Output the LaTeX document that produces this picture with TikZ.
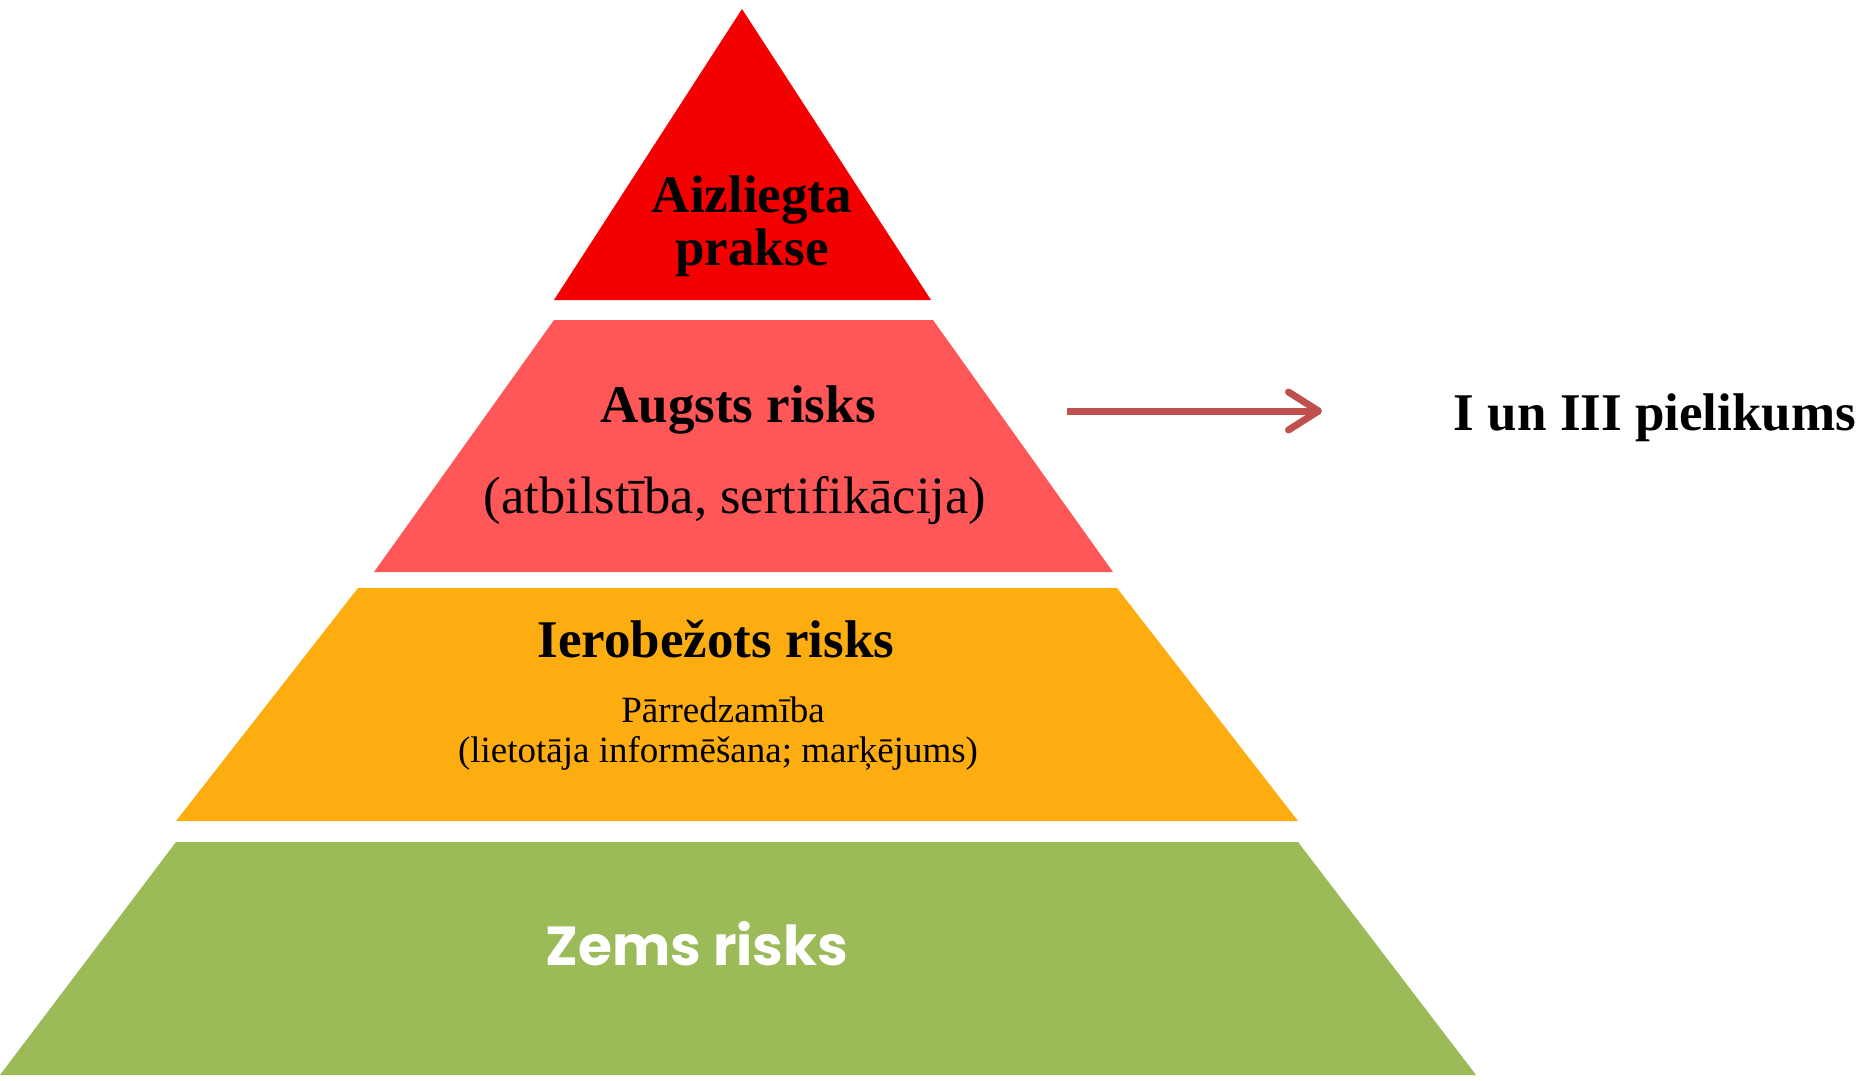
\documentclass[tikz,border=0pt]{standalone}
\usepackage{fontspec}
\setmainfont{Liberation Serif}
\newfontfamily\popfont{Poppins}
\usetikzlibrary{arrows.meta}
\definecolor{cTop}{HTML}{F50000}
\definecolor{cHigh}{HTML}{FF5757}
\definecolor{cLim}{HTML}{FDAD10}
\definecolor{cLow}{HTML}{9BBB59}
\definecolor{cArrow}{HTML}{C0504D}
\tikzset{
  band/.style={draw=none},
  head/.style={anchor=base, inner sep=0pt, font=\fontsize{26.5}{30}\selectfont\bfseries},
  sub/.style={anchor=base, inner sep=0pt, font=\fontsize{26.3}{30}\selectfont},
  small/.style={anchor=base, inner sep=0pt, font=\fontsize{18.5}{20}\selectfont},
  lowtext/.style={anchor=base, inner sep=0pt, text=white, font=\popfont\fontsize{27.5}{30}\selectfont\bfseries},
  arr/.style={draw=cArrow, line width=3.5pt, -{Straight Barb[length=15pt,width=19pt,round]}}
}
\begin{document}
\begin{tikzpicture}[x=0.5pt,y=-0.5pt]
\useasboundingbox (0,0) rectangle (1869,1081);
% bands
\fill[cTop,band] (742,9) -- (931,300) -- (554,300) -- cycle;
\fill[cHigh,band] (554,320) -- (933,320) -- (1113,572) -- (374,572) -- cycle;
\fill[cLim,band] (358,588) -- (1117,588) -- (1298,821) -- (176,821) -- cycle;
\fill[cLow,band] (176,842) -- (1298,842) -- (1476,1075) -- (0,1075) -- cycle;
% texts
\node[head] (t1a) at (752,213) {Aizliegta};
\node[head] (t1b) at (752,265) {prakse};
\node[head] (t2a) at (738,422) {Augsts risks};
\node[sub] (t2b) at (735,513) {(atbilstība, sertifikācija)};
\node[head] (t3a) at (716,657) {Ierobežots risks};
\node[small] (t3b) at (723,722) {Pārredzamība};
\node[small] (t3c) at (718,762) {(lietotāja informēšana; marķējums)};
\node[lowtext] (t4) at (697,965) {Zems risks};
\node[head] (ann) at (1655,430) {I un III pielikums};
% arrow
\coordinate (arrS) at (1067,411);
\coordinate (arrE) at (1322,411);
\draw[arr] (arrS) -- (arrE);
\end{tikzpicture}
\end{document}
